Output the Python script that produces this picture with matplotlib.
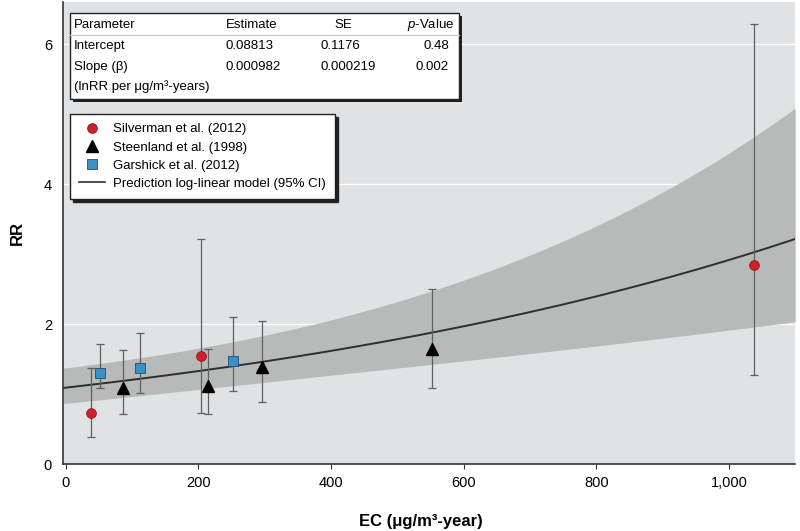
import numpy as np
import matplotlib.pyplot as plt
from matplotlib.lines import Line2D
from matplotlib.patches import Rectangle

plt.rcParams['font.family'] = ['Liberation Sans Narrow', 'Liberation Sans', 'DejaVu Sans']
plt.rcParams['mathtext.fontset'] = 'custom'
plt.rcParams['mathtext.rm'] = 'Liberation Sans'
plt.rcParams['mathtext.it'] = 'Liberation Sans:italic'

# Silverman et al. (2012)
silverman_x = [38, 204, 1038]
silverman_rr = [0.73, 1.54, 2.84]
silverman_lo = [0.38, 0.73, 1.27]
silverman_hi = [1.38, 3.21, 6.29]

# Steenland et al. (1998)
steenland_x = [86, 214, 296, 552]
steenland_rr = [1.09, 1.11, 1.39, 1.65]
steenland_lo = [0.71, 0.72, 0.89, 1.08]
steenland_hi = [1.63, 1.65, 2.04, 2.50]

# Garshick et al. (2012)
garshick_x = [52, 112, 252]
garshick_rr = [1.30, 1.37, 1.48]
garshick_lo = [1.09, 1.01, 1.04]
garshick_hi = [1.72, 1.88, 2.10]

# log-linear model parameters (from the table)
intercept, se_intercept, p_intercept = 0.08813, 0.1176, 0.48
slope, se_slope, p_slope = 0.000982, 0.000219, 0.002
cov_est = -7.8e-6

BG = '#e1e2e4'
BAND = '#b8baba'


def plot_study(ax, x, rr, lo, hi, **kw):
    yerr = [np.array(rr) - np.array(lo), np.array(hi) - np.array(rr)]
    ax.errorbar(x, rr, yerr=yerr, fmt='none', ecolor='#606060', elinewidth=0.9,
                capsize=3.2, capthick=0.9, zorder=3)
    ax.plot(x, rr, linestyle='none', zorder=4, **kw)


fig = plt.figure(figsize=(8, 5.31), dpi=100)
ax = fig.add_axes([0.079, 0.126, 0.915, 0.870])
ax.set_facecolor(BG)

xs = np.linspace(-4, 1100, 300)
ln_pred = intercept + slope * xs
se_pred = np.sqrt(se_intercept ** 2 + xs ** 2 * se_slope ** 2 + 2 * xs * cov_est)
ax.fill_between(xs, np.exp(ln_pred - 1.96 * se_pred), np.exp(ln_pred + 1.96 * se_pred),
                color=BAND, linewidth=0, zorder=1)
ax.plot(xs, np.exp(ln_pred), color='#2e2e2e', linewidth=1.4, zorder=2)

plot_study(ax, silverman_x, silverman_rr, silverman_lo, silverman_hi,
           marker='o', markersize=7, markerfacecolor='#d0202e', markeredgecolor='#8a1a1a',
           markeredgewidth=0.6)
plot_study(ax, steenland_x, steenland_rr, steenland_lo, steenland_hi,
           marker='^', markersize=8, markerfacecolor='black', markeredgecolor='black')
plot_study(ax, garshick_x, garshick_rr, garshick_lo, garshick_hi,
           marker='s', markersize=7, markerfacecolor='#3a8fc8', markeredgecolor='#1f4f70',
           markeredgewidth=0.6)

ax.set_xlim(-4, 1100)
ax.set_ylim(0, 6.6)
ax.set_xticks([0, 200, 400, 600, 800, 1000])
ax.set_xticklabels(['0', '200', '400', '600', '800', '1,000'])
ax.set_yticks([0, 2, 4, 6])
ax.tick_params(axis='y', length=0, pad=8, labelsize=10.5)
ax.tick_params(axis='x', length=3.6, width=0.8, pad=5, labelsize=10.5, color='#333333')
ax.yaxis.grid(True, color='white', linewidth=1.0)
ax.set_axisbelow(True)
for side in ['top', 'right']:
    ax.spines[side].set_visible(False)
for side in ['left', 'bottom']:
    ax.spines[side].set_color('#333333')
    ax.spines[side].set_linewidth(1.2)

ax.set_xlabel('EC (μg/m³-year)', fontsize=12, fontweight='bold')
ax.xaxis.set_label_coords(0.488, -0.108)
ax.set_ylabel('RR', fontsize=12, fontweight='bold')
ax.yaxis.set_label_coords(-0.053, 0.5)

# parameter table
tb_x0, tb_y0, tb_w, tb_h = 0.009, 0.790, 0.532, 0.187
ax.add_patch(Rectangle((tb_x0 + 0.004, tb_y0 - 0.006), tb_w, tb_h, transform=ax.transAxes,
                       facecolor='#222222', edgecolor='none', zorder=5))
ax.add_patch(Rectangle((tb_x0, tb_y0), tb_w, tb_h, transform=ax.transAxes,
                       facecolor='white', edgecolor='#222222', linewidth=1.0, zorder=6))
ax.plot([tb_x0, tb_x0 + tb_w], [0.929, 0.929], transform=ax.transAxes,
        color='#c8c8c8', linewidth=0.8, zorder=7)

rows = [
    ('Parameter', 'Estimate', 'SE', '$p$-Value'),
    ('Intercept', f'{intercept:.5f}', f'{se_intercept:.4f}', f'{p_intercept:.2f}'),
    ('Slope (β)', f'{slope:.6f}', f'{se_slope:.6f}', f'{p_slope:.3f}'),
    ('(lnRR per μg/m³-years)', '', '', ''),
]
row_y = [0.950, 0.905, 0.859, 0.818]
for i, (c1, c2, c3, c4) in enumerate(rows):
    y = row_y[i]
    kw = dict(transform=ax.transAxes, fontsize=9.5, va='center', zorder=8)
    ax.text(0.0146, y, c1, ha='left', **kw)
    ax.text(0.222, y, c2, ha='left', **kw)
    if i == 0:
        ax.text(0.382, y, c3, ha='center', **kw)
        ax.text(0.535, y, c4, ha='right', **kw)
    else:
        ax.text(0.352, y, c3, ha='left', **kw)
        ax.text(0.527, y, c4, ha='right', **kw)

handles = [
    Line2D([], [], linestyle='none', marker='o', markersize=7, markerfacecolor='#d0202e',
           markeredgecolor='#8a1a1a', markeredgewidth=0.6),
    Line2D([], [], linestyle='none', marker='^', markersize=8, color='black'),
    Line2D([], [], linestyle='none', marker='s', markersize=7, markerfacecolor='#3a8fc8',
           markeredgecolor='#1f4f70', markeredgewidth=0.6),
    Line2D([], [], color='#2e2e2e', linewidth=1.2),
]
labels = ['Silverman et al. (2012)', 'Steenland et al. (1998)', 'Garshick et al. (2012)',
          'Prediction log-linear model (95% CI)']
leg = ax.legend(handles, labels, loc='upper left', bbox_to_anchor=(0.009, 0.758),
                borderaxespad=0, fontsize=9.5, frameon=True, fancybox=False,
                shadow={'color': '#222222', 'alpha': 1}, edgecolor='#222222',
                framealpha=1, handlelength=2.0, handletextpad=0.6, labelspacing=0.45,
                borderpad=0.7)
leg.get_frame().set_linewidth(1.0)
leg.set_zorder(9)

fig.savefig('out.png', dpi=100)
